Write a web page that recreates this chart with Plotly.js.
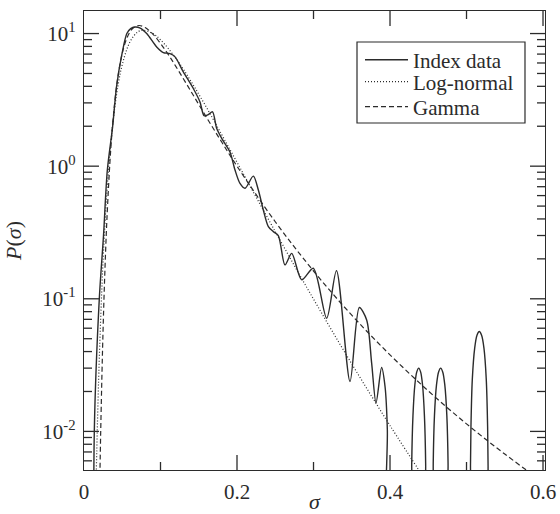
<!DOCTYPE html>
<html>
<head>
<meta charset="utf-8">
<script src="https://cdn.plot.ly/plotly-3.0.1.min.js"></script>
<style>
html,body{margin:0;padding:0;background:#ffffff;}
#chart{width:560px;height:514px;}
</style>
</head>
<body>
<div id="chart"></div>
<script>
// ---- Data ----
// Index data (solid): sigma and P(sigma); tiny values mark where the curve drops to zero
const indexSigma = [0.0130, 0.0135, 0.0200, 0.0255, 0.0305, 0.0374, 0.0425, 0.0497, 0.0560, 0.0610,
  0.0667, 0.0735, 0.0820, 0.0950, 0.1037, 0.1124, 0.1190, 0.1298, 0.1429, 0.1516,
  0.1570, 0.1625, 0.1680, 0.1734, 0.1800, 0.1908, 0.1974, 0.2039, 0.2105, 0.2213,
  0.2279, 0.2344, 0.2410, 0.2475, 0.2540, 0.2627, 0.2715, 0.2846, 0.2997, 0.3172,
  0.3300, 0.3477, 0.3599, 0.3695, 0.3760, 0.3817, 0.3890, 0.3935, 0.3965, 0.3990,
  0.4274, 0.4284, 0.4300, 0.4325, 0.4350, 0.4375, 0.4400, 0.4425, 0.4450, 0.4466, 0.4476,
  0.4554, 0.4565, 0.4581, 0.4608, 0.4635, 0.4662, 0.4689, 0.4716, 0.4743, 0.4759, 0.4770,
  0.5046, 0.5052, 0.5058, 0.5076, 0.5107, 0.5137, 0.5167, 0.5197, 0.5228, 0.5258, 0.5276, 0.5282, 0.5288];
const indexP = [0.0001, 0.0102, 0.100, 0.300, 0.935, 1.98, 3.96, 7.06, 10.0, 10.9,
  11.2, 11.0, 10.0, 7.92, 7.19, 7.06, 6.67, 5.14, 3.85, 3.05,
  2.40, 2.45, 2.57, 1.93, 1.62, 1.28, 0.935, 0.741, 0.681, 0.841,
  0.661, 0.467, 0.350, 0.321, 0.300, 0.180, 0.220, 0.139, 0.170, 0.0714,
  0.163, 0.0238, 0.0859, 0.0693, 0.0327, 0.0164, 0.0303, 0.0218, 0.0104, 0.0001,
  0.0001, 0.0057, 0.0131, 0.0225, 0.0281, 0.0300, 0.0281, 0.0225, 0.0131, 0.0057, 0.0001,
  0.0001, 0.0057, 0.0131, 0.0225, 0.0281, 0.0300, 0.0281, 0.0225, 0.0131, 0.0057, 0.0001,
  0.0001, 0.0055, 0.0108, 0.0248, 0.0425, 0.0531, 0.0566, 0.0531, 0.0425, 0.0248, 0.0108, 0.0055, 0.0001];

// Log-normal fit (dotted)
const lognormSigma = [0.014, 0.016, 0.018, 0.020, 0.025, 0.030, 0.035, 0.040, 0.045, 0.050,
  0.060, 0.070, 0.0775, 0.090, 0.100, 0.120, 0.140, 0.160, 0.180, 0.200,
  0.250, 0.300, 0.350, 0.400, 0.450];
const lognormP = [0.0012, 0.0047, 0.01426, 0.0357, 0.1995, 0.647, 1.489, 2.72, 4.23, 5.83,
  8.63, 10.26, 10.59, 10.0, 8.97, 6.52, 4.35, 2.78, 1.73, 1.07,
  0.321, 0.0995, 0.0323, 0.01107, 0.00398];

// Gamma fit (dashed)
const gammaSigma = [0.018, 0.020, 0.021, 0.022, 0.024, 0.026, 0.028, 0.030, 0.035, 0.040,
  0.045, 0.050, 0.055, 0.060, 0.065, 0.072, 0.080, 0.090, 0.100, 0.110,
  0.120, 0.140, 0.160, 0.180, 0.200, 0.250, 0.300, 0.350, 0.400, 0.450,
  0.500, 0.550, 0.600];
const gammaP = [0.00038, 0.00252, 0.00552, 0.0111, 0.0363, 0.0953, 0.209, 0.404, 1.35, 2.96,
  5.01, 7.11, 8.91, 10.28, 11.09, 11.5, 11.09, 9.91, 8.41, 6.97,
  5.66, 3.65, 2.34, 1.52, 1.00, 0.381, 0.162, 0.0752, 0.0378, 0.0202,
  0.0114, 0.00675, 0.00415];

const seriesNames = ['Index data', 'Log-normal', 'Gamma'];

// Tick labels
const xTickVals = [0, 0.2, 0.4, 0.6];
const xTickText = ['0', '0.2', '0.4', '0.6'];
const xMinorVals = [0.1, 0.3, 0.5];
const yTickVals = [0.01, 0.1, 1, 10];
const yTickText = ['10<sup>-2</sup>', '10<sup>-1</sup>', '10<sup>0</sup>', '10<sup>1</sup>'];
const yMinorVals = [];
[0.001, 0.01, 0.1, 1].forEach(function (d) {
  for (let k = 2; k <= 9; k++) yMinorVals.push(+(k * d).toPrecision(3));
});

// ---- Plot ----
const ink = '#2b2b2b';
const serif = 'Liberation Serif, Times New Roman, serif';
const xRange = [0, 0.6026];
const yRange = [-2.291, 1.170];

const traces = [
  {x: indexSigma, y: indexP, name: seriesNames[0], type: 'scatter', mode: 'lines', legend: 'legend2',
   line: {color: ink, width: 1.4, shape: 'spline', smoothing: 0.8}},
  {x: lognormSigma, y: lognormP, name: seriesNames[1], type: 'scatter', mode: 'lines', legend: 'legend3',
   line: {color: ink, width: 1.2, dash: '1px,2px', shape: 'spline'}},
  {x: gammaSigma, y: gammaP, name: seriesNames[2], type: 'scatter', mode: 'lines', legend: 'legend4',
   line: {color: ink, width: 1.2, dash: '5px,3px', shape: 'spline'}}
];

// Tick marks on all four sides, placed at the tick values through the axes
const tickLine = {color: ink, width: 1.3};
const shapes = [{type: 'rect', xref: 'paper', yref: 'paper', x0: 0.5922, x1: 0.9566, y0: 0.756, y1: 0.9325,
                 line: {color: ink, width: 1.2}, fillcolor: 'rgba(0,0,0,0)', layer: 'above'}];
function xTick(v, len) {
  shapes.push({type: 'line', xref: 'x', yref: 'paper', ysizemode: 'pixel', yanchor: 0,
               x0: v, x1: v, y0: 0, y1: len, line: tickLine, layer: 'above'});
  shapes.push({type: 'line', xref: 'x', yref: 'paper', ysizemode: 'pixel', yanchor: 1,
               x0: v, x1: v, y0: 0, y1: -len, line: tickLine, layer: 'above'});
}
function yTick(v, len) {
  shapes.push({type: 'line', xref: 'paper', yref: 'y', xsizemode: 'pixel', xanchor: 0,
               y0: v, y1: v, x0: 0, x1: len, line: tickLine, layer: 'above'});
  shapes.push({type: 'line', xref: 'paper', yref: 'y', xsizemode: 'pixel', xanchor: 1,
               y0: v, y1: v, x0: 0, x1: -len, line: tickLine, layer: 'above'});
}
xTickVals.filter(function (v) { return v > xRange[0] && v < xRange[1]; }).forEach(function (v) { xTick(v, 15); });
xMinorVals.forEach(function (v) { xTick(v, 8); });
yTickVals.forEach(function (v) { yTick(v, 15); });
yMinorVals.filter(function (v) { const l = Math.log10(v); return l > yRange[0] && l < yRange[1]; })
  .forEach(function (v) { yTick(v, 8); });

const tickFont = {family: serif, size: 21, color: ink};
const legendFont = {family: serif, size: 21, color: ink};

function legendAt(yPaper) {
  return {x: 0.5987, y: yPaper, xanchor: 'left', yanchor: 'middle',
          bgcolor: 'rgba(0,0,0,0)', borderwidth: 0, font: legendFont, itemwidth: 43};
}

const layout = {
  width: 560, height: 514,
  margin: {l: 84, r: 15, t: 11, b: 44},
  showlegend: true,
  legend2: legendAt(0.893),
  legend3: legendAt(0.8455),
  legend4: legendAt(0.7908),
  shapes: shapes,
  xaxis: {
    range: xRange, showline: true, linecolor: ink, linewidth: 1.3, mirror: true,
    showgrid: false, zeroline: false,
    ticks: '', tickmode: 'array', tickvals: xTickVals, ticktext: xTickText,
    tickfont: tickFont, ticklabelstandoff: 2,
    title: {text: '<i>σ</i>', font: {family: serif, size: 22, color: ink}, standoff: 0}
  },
  yaxis: {
    type: 'log', range: yRange, showline: true, linecolor: ink, linewidth: 1.3, mirror: true,
    showgrid: false, zeroline: false,
    ticks: '', tickmode: 'array', tickvals: yTickVals, ticktext: yTickText,
    tickfont: tickFont, ticklabelstandoff: 3,
    title: {text: '<i>P</i>(<i>σ</i>)', font: {family: serif, size: 22, color: ink}, standoff: 14}
  }
};

Plotly.newPlot('chart', traces, layout, {displayModeBar: false, staticPlot: true});
</script>
</body>
</html>
